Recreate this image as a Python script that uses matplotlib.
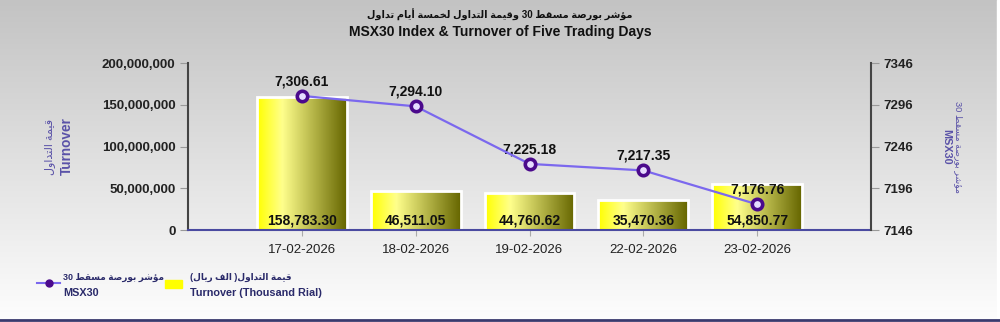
import re

import matplotlib
matplotlib.use("Agg")
import matplotlib.pyplot as plt
import numpy as np
from matplotlib.lines import Line2D
from matplotlib.patches import Rectangle
from matplotlib.ticker import FuncFormatter, MultipleLocator

# Data
dates = ["17-02-2026", "18-02-2026", "19-02-2026", "22-02-2026", "23-02-2026"]
turnover_k = [158783.30, 46511.05, 44760.62, 35470.36, 54850.77]   # thousand rial
msx30 = [7306.61, 7294.10, 7225.18, 7217.35, 7176.76]
msx_ticks = [7146, 7196, 7246, 7296, 7346]

title_ar = "مؤشر بورصة مسقط 30 وقيمة التداول لخمسة أيام تداول"
title_en = "MSX30 Index & Turnover of Five Trading Days"
left_ar, left_en = "قيمة التداول", "Turnover"
right_ar, right_en = "مؤشر بورصة مسقط 30", "MSX30"
leg_bar_ar, leg_bar_en = "قيمة التداول( الف ريال)", "Turnover (Thousand Rial)"

FONTS = ["Liberation Sans", "DejaVu Sans"]
plt.rcParams["font.family"] = FONTS

# Arabic presentation forms (isolated, final, initial, medial)
FORMS = {
    "ا": (0xFE8D, 0xFE8E), "أ": (0xFE83, 0xFE84), "ؤ": (0xFE85, 0xFE86),
    "ب": (0xFE8F, 0xFE90, 0xFE91, 0xFE92), "ة": (0xFE93, 0xFE94),
    "ت": (0xFE95, 0xFE96, 0xFE97, 0xFE98), "خ": (0xFEA5, 0xFEA6, 0xFEA7, 0xFEA8),
    "د": (0xFEA9, 0xFEAA), "ر": (0xFEAD, 0xFEAE),
    "س": (0xFEB1, 0xFEB2, 0xFEB3, 0xFEB4), "ش": (0xFEB5, 0xFEB6, 0xFEB7, 0xFEB8),
    "ص": (0xFEB9, 0xFEBA, 0xFEBB, 0xFEBC), "ط": (0xFEC1, 0xFEC2, 0xFEC3, 0xFEC4),
    "ف": (0xFED1, 0xFED2, 0xFED3, 0xFED4), "ق": (0xFED5, 0xFED6, 0xFED7, 0xFED8),
    "ل": (0xFEDD, 0xFEDE, 0xFEDF, 0xFEE0), "م": (0xFEE1, 0xFEE2, 0xFEE3, 0xFEE4),
    "و": (0xFEED, 0xFEEE), "ي": (0xFEF1, 0xFEF2, 0xFEF3, 0xFEF4),
}


def ar(text):
    out = []
    for i, c in enumerate(text):
        f = FORMS.get(c)
        if f is None:
            out.append(c)
            continue
        prev = text[i - 1] if i > 0 else ""
        nxt = text[i + 1] if i + 1 < len(text) else ""
        jp = prev in FORMS and len(FORMS[prev]) == 4
        jn = len(f) == 4 and nxt in FORMS
        g = f[3] if (jp and jn) else f[1] if jp else f[2] if jn else f[0]
        out.append(chr(g))
    s = "".join(out)[::-1]
    s = s.translate(str.maketrans("()", ")("))
    return re.sub(r"[0-9A-Za-z.,]+", lambda m: m.group(0)[::-1], s)


fig = plt.figure(figsize=(10, 3.22), dpi=100)

# background gradient
bg = fig.add_axes([0, 0, 1, 1], zorder=-10)
grad = np.linspace(0, 1, 256)[:, None]
top = np.array([0.765, 0.765, 0.765])
bot = np.array([0.995, 0.995, 0.995])
img = top + (bot - top) * grad
bg.imshow(img[:, None, :], aspect="auto", extent=[0, 1, 0, 1])
bg.axvspan(0.997, 1, color="white")
bg.axhline(0.005, color="#3a3a6e", lw=2)
bg.set_xlim(0, 1)
bg.set_ylim(0, 1)
bg.axis("off")

ax = fig.add_axes([0.188, 0.2857, 0.683, 0.5186])
ax.set_facecolor("none")
x = np.arange(1, len(dates) + 1)
values = np.array(turnover_k) * 1000

bars = ax.bar(x, values, width=0.79, color="none", edgecolor="white", lw=2, zorder=3)
cmap = matplotlib.colors.LinearSegmentedColormap.from_list(
    "bar", [(0, "#ffff00"), (0.28, "#ffff8c"), (1, "#666600")])
for b in bars:
    x0, w, h = b.get_x(), b.get_width(), b.get_height()
    im = ax.imshow(np.linspace(0, 1, 200)[None, :], cmap=cmap, aspect="auto",
                   extent=[x0, x0 + w, 0, h], zorder=2)
    im.set_clip_path(b)

for xi, v in zip(x, turnover_k):
    ax.annotate(f"{v:,.2f}", (xi, 0), xytext=(0, 1.5), textcoords="offset points",
                ha="center", va="bottom", fontsize=10, fontweight="bold",
                color="#111111", zorder=5)

ax.set_xlim(0, 6)
ax.set_ylim(0, 200_000_000)
ax.yaxis.set_major_locator(MultipleLocator(50_000_000))
ax.yaxis.set_major_formatter(FuncFormatter(lambda v, p: f"{v:,.0f}"))
ax.set_xticks(x)
ax.set_xticklabels(dates, fontsize=9.5, color="#222222")
ax.tick_params(axis="x", length=4, color="#aaaaaa", pad=6)
ax.tick_params(axis="y", length=6, color="#999999", labelsize=9.5, pad=3,
               labelcolor="#222222")
for lab in ax.get_yticklabels():
    lab.set_fontweight("bold")
ax.spines["top"].set_visible(False)
ax.spines["right"].set_visible(False)
ax.spines["left"].set_color("#444444")
ax.spines["left"].set_linewidth(1.5)
ax.spines["bottom"].set_color("#4a4aa0")
ax.spines["bottom"].set_linewidth(1.5)
ax.spines["bottom"].set_zorder(6)

ax2 = ax.twinx()
ax2.plot(x, msx30, color="#7b68ee", lw=1.6, marker="o", ms=7.5,
         mfc="#e6dcff", mec="#4b0a8c", mew=2.6, zorder=5)
for xi, v in zip(x, msx30):
    ax2.annotate(f"{v:,.2f}", (xi, v), xytext=(0, 10.5), textcoords="offset points",
                 ha="center", va="center", fontsize=10, fontweight="bold",
                 color="#111111")
ax2.set_ylim(msx_ticks[0], msx_ticks[-1])
ax2.set_yticks(msx_ticks)
ax2.tick_params(axis="y", length=6, color="#999999", labelsize=9.5, pad=3,
                labelcolor="#222222")
for lab in ax2.get_yticklabels():
    lab.set_fontweight("bold")
for s in ("top", "left", "bottom"):
    ax2.spines[s].set_visible(False)
ax2.spines["right"].set_color("#444444")
ax2.spines["right"].set_linewidth(1.5)

# titles
fig.text(0.5, 0.952, ar(title_ar), ha="center", va="center", fontsize=7,
         fontweight="bold", color="#111111")
fig.text(0.5, 0.900, title_en, ha="center", va="center", fontsize=10,
         fontweight="bold", color="#111111")

# axis labels
lab_col = "#5a52a8"
fig.text(0.050, 0.545, ar(left_ar), rotation=90, ha="center", va="center",
         fontsize=8, color=lab_col)
fig.text(0.067, 0.545, left_en, rotation=90, ha="center", va="center",
         fontsize=9.8, fontweight="bold", color=lab_col)
fig.text(0.958, 0.545, ar(right_ar), rotation=270, ha="center", va="center",
         fontsize=6.7, color=lab_col)
fig.text(0.946, 0.545, right_en, rotation=270, ha="center", va="center",
         fontsize=7.8, fontweight="bold", color=lab_col)

# legend
leg_col = "#2a2a6a"
fig.add_artist(Line2D([0.037, 0.060], [0.120, 0.120], color="#7b68ee", lw=1.5))
fig.add_artist(Line2D([0.0485], [0.120], marker="o", ms=5, color="#4b0a8c"))
fig.text(0.063, 0.138, ar(right_ar), ha="left", va="center", fontsize=6.4,
         fontweight="bold", color=leg_col)
fig.text(0.063, 0.090, right_en, ha="left", va="center", fontsize=7.8,
         fontweight="bold", color=leg_col)
fig.add_artist(Rectangle((0.165, 0.106), 0.017, 0.025, color="#ffff00",
                         transform=fig.transFigure))
fig.text(0.190, 0.138, ar(leg_bar_ar), ha="left", va="center", fontsize=6.4,
         fontweight="bold", color=leg_col)
fig.text(0.190, 0.090, leg_bar_en, ha="left", va="center", fontsize=7.8,
         fontweight="bold", color=leg_col)

fig.savefig("out.png", dpi=100)
